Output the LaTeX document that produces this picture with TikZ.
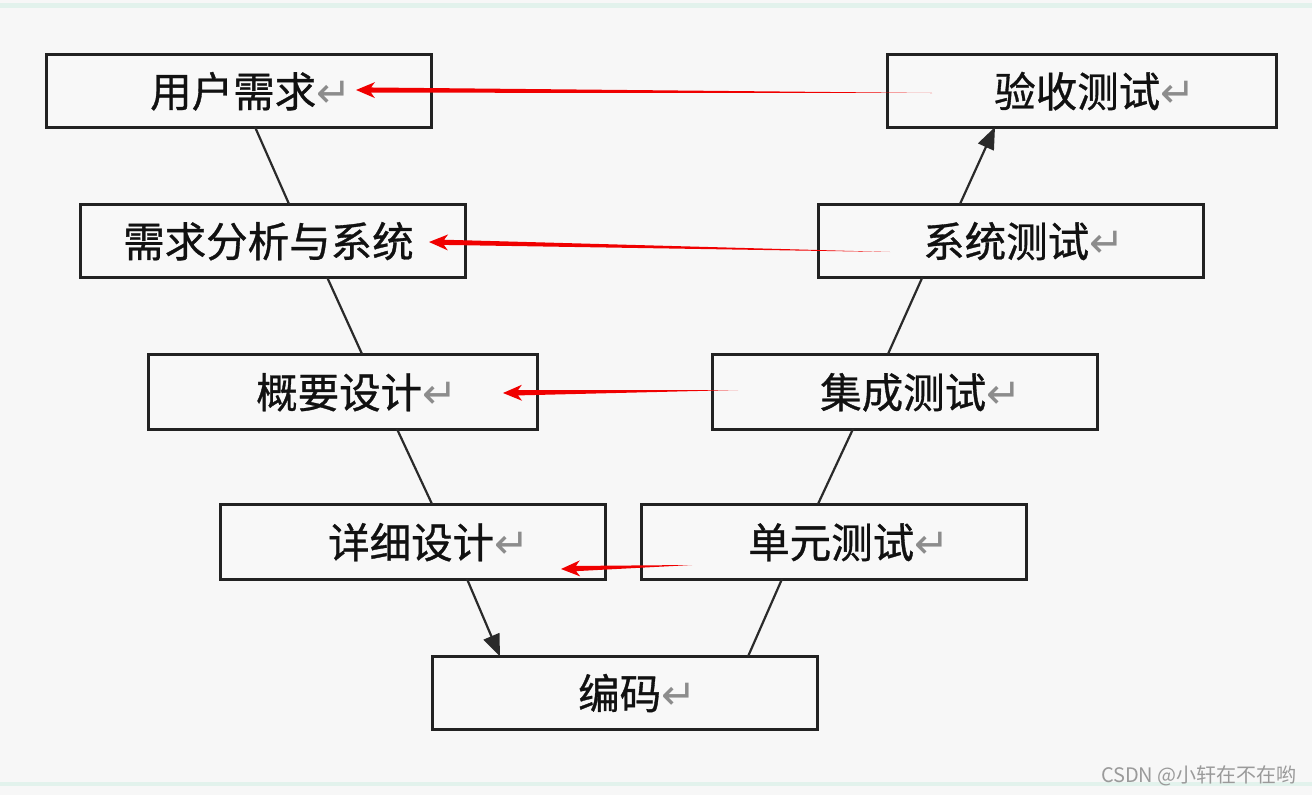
\documentclass[tikz,border=0pt]{standalone}
\usepackage{fontspec}
\setmainfont{Noto Sans CJK SC}
\newfontfamily\cjk[FakeBold=0.8]{Noto Sans CJK SC}
\newfontfamily\cjkwm{Noto Sans CJK SC}
\newfontfamily\symf{DejaVu Sans}
\usetikzlibrary{calc,arrows.meta}
\definecolor{bg}{HTML}{F7F7F7}
\definecolor{mint}{HTML}{E2F2EC}
\definecolor{boxc}{HTML}{222222}
\definecolor{boxfill}{HTML}{F8F8F8}
\definecolor{linec}{HTML}{2A2A2A}
\definecolor{txt}{HTML}{111111}
\definecolor{retgray}{HTML}{8C8C8C}
\definecolor{redc}{RGB}{240,0,0}
\definecolor{wm}{HTML}{9A9A9A}
\newcommand\rt{{\symf\fontsize{42}{42}\selectfont\color{retgray}↵}}
\newcommand\redarr[2]{%
  \coordinate (hb) at ($(#2)!15pt!(#1)$);
  \coordinate (hc) at ($(#2)!19pt!(#1)$);
  \fill[redc] (#1) -- ($(hb)!2.6pt!90:(#1)$) -- ($(hc)!8pt!90:(#1)$) -- (#2)
     -- ($(hc)!8pt!-90:(#1)$) -- ($(hb)!2.6pt!-90:(#1)$) -- cycle;
}
\begin{document}
\begin{tikzpicture}[x=1pt,y=-1pt,
  box/.style={draw=boxc, line width=3pt, fill=boxfill, minimum width=385pt,
    minimum height=73pt, inner sep=0pt, outer sep=0pt},
  lbl/.style={anchor=base west, inner sep=0pt, font=\cjk\fontsize{41.5}{44}\selectfont, text=txt},
  conn/.style={draw=linec, line width=2.2pt},
  arrowconn/.style={conn, -{Triangle[length=22pt,width=17pt]}}]
\useasboundingbox (0,0) rectangle (1312,795);
\fill[bg] (0,0) rectangle (1312,795);
\fill[mint] (0,3) rectangle (1312,8);
\fill[mint] (0,782) rectangle (1312,786);

% boxes
\node[box] (b1) at (238.5,90.5) {};
\node[box] (b2) at (272.5,240.5) {};
\node[box, minimum width=389pt, minimum height=75pt] (b3) at (342.5,391.5) {};
\node[box, minimum height=75pt] (b4) at (412.5,541.5) {};
\node[box] (b5) at (625,693) {};
\node[box, minimum height=75pt] (b6) at (833.5,541.5) {};
\node[box, minimum height=75pt] (b7) at (905,391.5) {};
\node[box] (b8) at (1010.5,240.5) {};
\node[box, minimum width=389pt] (b9) at (1081.5,90.5) {};

% labels
\node[lbl] (t1) at (150,107) {用户需求\rt};
\node[lbl] (t2) at (123,257) {需求分析与系统};
\node[lbl] (t3) at (256,408) {概要设计\rt};
\node[lbl] (t4) at (328,558) {详细设计\rt};
\node[lbl] (t5) at (578,709) {编码\rt};
\node[lbl] (t6) at (748,558) {单元测试\rt};
\node[lbl] (t7) at (820,408) {集成测试\rt};
\node[lbl] (t8) at (923,257) {系统测试\rt};
\node[lbl] (t9) at (994,107) {验收测试\rt};

% connectors
\draw[conn] ([xshift=16.5]b1.south) -- ([xshift=16.5]b2.north);
\draw[conn] ([xshift=54.5]b2.south) -- ([xshift=19.5]b3.north);
\draw[conn] ([xshift=54.5]b3.south) -- ([xshift=19.5]b4.north);
\draw[arrowconn] ([xshift=54.5]b4.south) -- ([xshift=-125]b5.north);
\draw[conn] ([xshift=123]b5.north) -- ([xshift=-51.5]b6.south);
\draw[conn] ([xshift=-15.5]b6.north) -- ([xshift=-52]b7.south);
\draw[conn] ([xshift=-17]b7.north) -- ([xshift=-88]b8.south);
\draw[arrowconn] ([xshift=-50.5]b8.north) -- ([xshift=-86.5]b9.south);

% red arrows
\coordinate (r1s) at (932,93);  \coordinate (r1t) at (356,90);
\coordinate (r2s) at (890,252); \coordinate (r2t) at (429,242);
\coordinate (r3s) at (738,390); \coordinate (r3t) at (503,393);
\coordinate (r4s) at (692,565); \coordinate (r4t) at (561,569);
\redarr{r1s}{r1t}
\redarr{r2s}{r2t}
\redarr{r3s}{r3t}
\redarr{r4s}{r4t}

% watermark
\node[anchor=base east, inner sep=0pt, text=wm, font=\cjkwm\fontsize{20}{22}\selectfont] (wmk) at (1297,782) {CSDN @小轩在不在哟};
\end{tikzpicture}
\end{document}
